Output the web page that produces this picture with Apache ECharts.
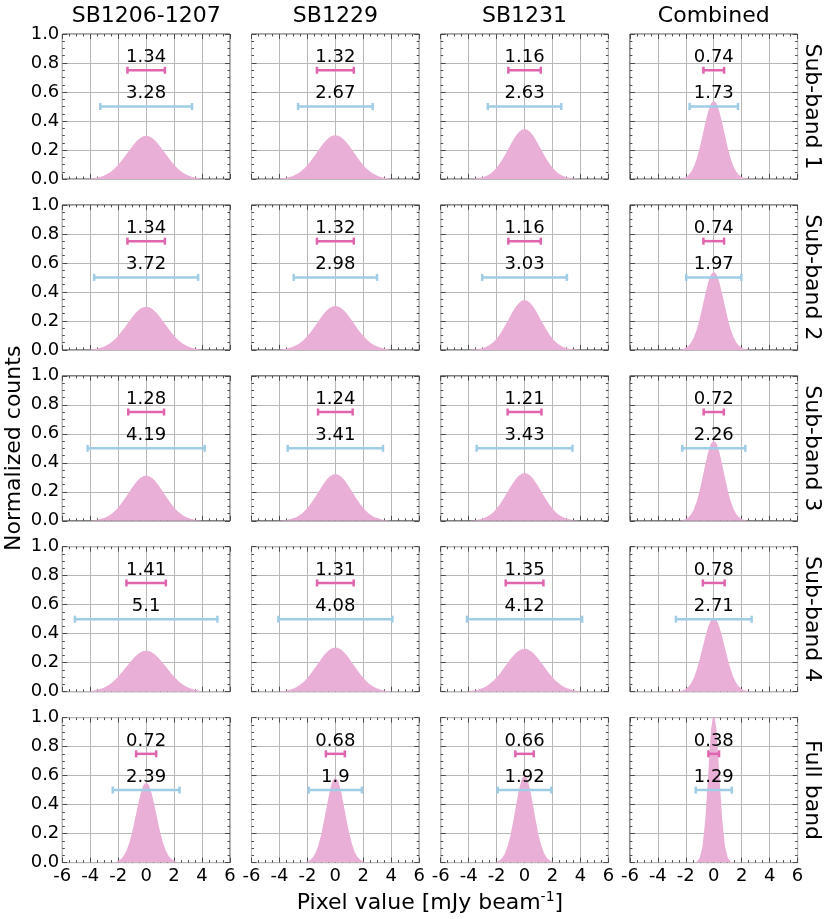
<!DOCTYPE html>
<html>
<head>
<meta charset="utf-8">
<script src="https://cdn.jsdelivr.net/npm/echarts@6/dist/echarts.min.js"></script>
<style>
html,body{margin:0;padding:0;background:#fff;}
#chart{width:830px;height:919px;}
</style>
</head>
<body>
<div id="chart"></div>
<script>
// ---------------- DATA ----------------
const columnTitles = ['SB1206-1207', 'SB1229', 'SB1231', 'Combined'];
const rowTitles = ['Sub-band 1', 'Sub-band 2', 'Sub-band 3', 'Sub-band 4', 'Full band'];
const xTicks = [-6, -4, -2, 0, 2, 4, 6];
const yTicks = [0.0, 0.2, 0.4, 0.6, 0.8, 1.0];

// pink (upper) error-bar half widths, per row, per column
const pinkWidths = [
  [1.34, 1.32, 1.16, 0.74],
  [1.34, 1.32, 1.16, 0.74],
  [1.28, 1.24, 1.21, 0.72],
  [1.41, 1.31, 1.35, 0.78],
  [0.72, 0.68, 0.66, 0.38]
];
// blue (lower) error-bar half widths, per row, per column
const blueWidths = [
  [3.28, 2.67, 2.63, 1.73],
  [3.72, 2.98, 3.03, 1.97],
  [4.19, 3.41, 3.43, 2.26],
  [5.1, 4.08, 4.12, 2.71],
  [2.39, 1.9, 1.92, 1.29]
];

// histogram bin centres (mJy/beam)
const binCenters = [-4.0,-3.8,-3.6,-3.4,-3.2,-3.0,-2.8,-2.6,-2.4,-2.2,-2.0,-1.8,-1.6,-1.4,-1.2,-1.0,-0.8,-0.6,-0.4,-0.2,0,0.2,0.4,0.6,0.8,1.0,1.2,1.4,1.6,1.8,2.0,2.2,2.4,2.6,2.8,3.0,3.2,3.4,3.6,3.8,4.0];

// normalized counts per panel
const histSB1206Sub1 = [0.003,0.005,0.008,0.012,0.017,0.024,0.034,0.045,0.060,0.077,0.098,0.121,0.146,0.172,0.199,0.225,0.249,0.269,0.285,0.294,0.298,0.294,0.285,0.269,0.249,0.225,0.199,0.172,0.146,0.121,0.098,0.077,0.060,0.045,0.034,0.024,0.017,0.012,0.008,0.005,0.003];
const histSB1229Sub1 = [0.003,0.005,0.007,0.011,0.016,0.023,0.032,0.043,0.058,0.075,0.096,0.119,0.145,0.172,0.200,0.227,0.252,0.273,0.289,0.299,0.302,0.299,0.289,0.273,0.252,0.227,0.200,0.172,0.145,0.119,0.096,0.075,0.058,0.043,0.032,0.023,0.016,0.011,0.007,0.005,0.003];
const histSB1231Sub1 = [0.001,0.002,0.003,0.005,0.008,0.012,0.019,0.028,0.040,0.057,0.078,0.103,0.133,0.166,0.201,0.237,0.271,0.301,0.324,0.339,0.344,0.339,0.324,0.301,0.271,0.237,0.201,0.166,0.133,0.103,0.078,0.057,0.040,0.028,0.019,0.012,0.008,0.005,0.003,0.002,0.001];
const histCombSub1 = [0,0,0,0,0,0,0,0.001,0.003,0.006,0.014,0.028,0.052,0.090,0.145,0.216,0.301,0.388,0.466,0.520,0.539,0.520,0.466,0.388,0.301,0.216,0.145,0.090,0.052,0.028,0.014,0.006,0.003,0.001,0,0,0,0,0,0,0];

const histSB1206Sub2 = [0.003,0.005,0.008,0.012,0.017,0.024,0.034,0.045,0.060,0.077,0.098,0.121,0.146,0.172,0.199,0.225,0.249,0.269,0.285,0.294,0.298,0.294,0.285,0.269,0.249,0.225,0.199,0.172,0.146,0.121,0.098,0.077,0.060,0.045,0.034,0.024,0.017,0.012,0.008,0.005,0.003];
const histSB1229Sub2 = [0.003,0.005,0.007,0.011,0.016,0.023,0.032,0.043,0.058,0.075,0.096,0.119,0.145,0.172,0.200,0.227,0.252,0.273,0.289,0.299,0.302,0.299,0.289,0.273,0.252,0.227,0.200,0.172,0.145,0.119,0.096,0.075,0.058,0.043,0.032,0.023,0.016,0.011,0.007,0.005,0.003];
const histSB1231Sub2 = [0.001,0.002,0.003,0.005,0.008,0.012,0.019,0.028,0.040,0.057,0.078,0.103,0.133,0.166,0.201,0.237,0.271,0.301,0.324,0.339,0.344,0.339,0.324,0.301,0.271,0.237,0.201,0.166,0.133,0.103,0.078,0.057,0.040,0.028,0.019,0.012,0.008,0.005,0.003,0.002,0.001];
const histCombSub2 = [0,0,0,0,0,0,0,0.001,0.003,0.006,0.014,0.028,0.052,0.090,0.145,0.216,0.301,0.388,0.466,0.520,0.539,0.520,0.466,0.388,0.301,0.216,0.145,0.090,0.052,0.028,0.014,0.006,0.003,0.001,0,0,0,0,0,0,0];

const histSB1206Sub3 = [0.002,0.004,0.006,0.009,0.014,0.020,0.028,0.040,0.054,0.071,0.092,0.116,0.143,0.171,0.201,0.230,0.256,0.279,0.297,0.308,0.312,0.308,0.297,0.279,0.256,0.230,0.201,0.171,0.143,0.116,0.092,0.071,0.054,0.040,0.028,0.020,0.014,0.009,0.006,0.004,0.002];
const histSB1229Sub3 = [0.002,0.003,0.005,0.008,0.012,0.017,0.025,0.036,0.049,0.067,0.088,0.112,0.140,0.170,0.201,0.232,0.261,0.286,0.305,0.318,0.322,0.318,0.305,0.286,0.261,0.232,0.201,0.170,0.140,0.112,0.088,0.067,0.049,0.036,0.025,0.017,0.012,0.008,0.005,0.003,0.002];
const histSB1231Sub3 = [0.001,0.002,0.004,0.006,0.010,0.015,0.023,0.033,0.046,0.063,0.084,0.109,0.138,0.169,0.202,0.234,0.265,0.292,0.312,0.325,0.330,0.325,0.312,0.292,0.265,0.234,0.202,0.169,0.138,0.109,0.084,0.063,0.046,0.033,0.023,0.015,0.010,0.006,0.004,0.002,0.001];
const histCombSub3 = [0,0,0,0,0,0,0,0.001,0.002,0.005,0.012,0.024,0.047,0.084,0.138,0.211,0.299,0.392,0.475,0.533,0.554,0.533,0.475,0.392,0.299,0.211,0.138,0.084,0.047,0.024,0.012,0.005,0.002,0.001,0,0,0,0,0,0,0];

const histSB1206Sub4 = [0.005,0.007,0.011,0.015,0.022,0.029,0.039,0.052,0.066,0.084,0.103,0.125,0.149,0.173,0.197,0.220,0.241,0.258,0.272,0.280,0.283,0.280,0.272,0.258,0.241,0.220,0.197,0.173,0.149,0.125,0.103,0.084,0.066,0.052,0.039,0.029,0.022,0.015,0.011,0.007,0.005];
const histSB1229Sub4 = [0.003,0.005,0.007,0.010,0.015,0.022,0.031,0.042,0.057,0.074,0.095,0.118,0.144,0.172,0.200,0.228,0.253,0.274,0.291,0.301,0.305,0.301,0.291,0.274,0.253,0.228,0.200,0.172,0.144,0.118,0.095,0.074,0.057,0.042,0.031,0.022,0.015,0.010,0.007,0.005,0.003];
const histSB1231Sub4 = [0.004,0.006,0.008,0.012,0.018,0.025,0.034,0.046,0.061,0.078,0.099,0.121,0.146,0.173,0.199,0.225,0.248,0.268,0.283,0.292,0.296,0.292,0.283,0.268,0.248,0.225,0.199,0.173,0.146,0.121,0.099,0.078,0.061,0.046,0.034,0.025,0.018,0.012,0.008,0.006,0.004];
const histCombSub4 = [0,0,0,0,0,0,0.001,0.002,0.005,0.010,0.019,0.036,0.062,0.102,0.157,0.225,0.302,0.380,0.448,0.495,0.511,0.495,0.448,0.380,0.302,0.225,0.157,0.102,0.062,0.036,0.019,0.010,0.005,0.002,0.001,0,0,0,0,0,0];

const histSB1206Full = [0,0,0,0,0,0,0,0.001,0.002,0.005,0.012,0.024,0.047,0.084,0.138,0.211,0.299,0.392,0.475,0.533,0.554,0.533,0.475,0.392,0.299,0.211,0.138,0.084,0.047,0.024,0.012,0.005,0.002,0.001,0,0,0,0,0,0,0];
const histSB1229Full = [0,0,0,0,0,0,0,0,0.001,0.003,0.008,0.018,0.037,0.070,0.124,0.199,0.294,0.398,0.493,0.562,0.587,0.562,0.493,0.398,0.294,0.199,0.124,0.070,0.037,0.018,0.008,0.003,0.001,0,0,0,0,0,0,0,0];
const histSB1231Full = [0,0,0,0,0,0,0,0,0.001,0.002,0.006,0.015,0.032,0.064,0.116,0.192,0.290,0.400,0.503,0.577,0.604,0.577,0.503,0.400,0.290,0.192,0.116,0.064,0.032,0.015,0.006,0.002,0.001,0,0,0,0,0,0,0,0];
const histCombFull = [0,0,0,0,0,0,0,0,0,0,0,0,0,0.001,0.007,0.033,0.114,0.302,0.603,0.914,1.050,0.914,0.603,0.302,0.114,0.033,0.007,0.001,0,0,0,0,0,0,0,0,0,0,0,0,0];

const panelHists = [
  [histSB1206Sub1, histSB1229Sub1, histSB1231Sub1, histCombSub1],
  [histSB1206Sub2, histSB1229Sub2, histSB1231Sub2, histCombSub2],
  [histSB1206Sub3, histSB1229Sub3, histSB1231Sub3, histCombSub3],
  [histSB1206Sub4, histSB1229Sub4, histSB1231Sub4, histCombSub4],
  [histSB1206Full, histSB1229Full, histSB1231Full, histCombFull]
];

// ---------------- STYLE / LAYOUT ----------------
const FONT = 'DejaVu Sans';
const FILL = '#e9afd7';
const PINK = '#e064ae';
const BLUE = '#9fcde6';
const GRIDC = '#b8b8b8';
const FRAME = '#4a4a4a';
const PINK_Y = 0.75, BLUE_Y = 0.5;

const colLeft0 = 62.3, colStep = 189.2, panelW = 167.7;
const rowTop0 = 34, rowStep = 170.9, panelH = 145;

const chart = echarts.init(document.getElementById('chart'), null, {renderer: 'canvas'});

const grids = [], xAxes = [], yAxes = [], series = [], graphics = [];
const nRows = rowTitles.length, nCols = columnTitles.length;

const tickCommon = {show: true, inside: true, length: 5, lineStyle: {color: FRAME, width: 1}};
const minorCommon = {show: true, splitNumber: 4, length: 2.5, lineStyle: {color: FRAME, width: 1}};

for (let r = 0; r < nRows; r++) {
  for (let c = 0; c < nCols; c++) {
    const gi = grids.length;
    grids.push({
      left: colLeft0 + c * colStep, top: rowTop0 + r * rowStep,
      width: panelW, height: panelH,
      show: true, borderColor: FRAME, borderWidth: 1, backgroundColor: 'transparent',
      containLabel: false
    });
    const xBase = {
      type: 'value', gridIndex: gi, min: xTicks[0], max: xTicks[xTicks.length - 1],
      interval: xTicks[1] - xTicks[0],
      axisLine: {show: false, onZero: false}, axisTick: tickCommon, minorTick: minorCommon
    };
    xAxes.push(Object.assign({}, xBase, {
      position: 'bottom',
      axisLabel: {show: r === nRows - 1, fontFamily: FONT, fontSize: 18, color: '#000', margin: 5,
        formatter: v => String(v)},
      splitLine: {show: true, lineStyle: {color: GRIDC, width: 1}}
    }));
    xAxes.push(Object.assign({}, xBase, {
      position: 'top', axisLabel: {show: false}, splitLine: {show: false}
    }));
    const yBase = {
      type: 'value', gridIndex: gi, min: yTicks[0], max: yTicks[yTicks.length - 1],
      interval: yTicks[1] - yTicks[0],
      axisLine: {show: false, onZero: false}, axisTick: tickCommon, minorTick: minorCommon
    };
    yAxes.push(Object.assign({}, yBase, {
      position: 'left',
      axisLabel: {show: c === 0, fontFamily: FONT, fontSize: 18, color: '#000', margin: 3,
        formatter: v => v.toFixed(1)},
      splitLine: {show: true, lineStyle: {color: GRIDC, width: 1}}
    }));
    yAxes.push(Object.assign({}, yBase, {
      position: 'right', axisLabel: {show: false}, splitLine: {show: false}
    }));

    const hist = panelHists[r][c];
    series.push({
      type: 'line', xAxisIndex: 2 * gi, yAxisIndex: 2 * gi,
      data: binCenters.map((x, i) => [x, hist[i]]),
      symbol: 'none', silent: true, animation: false,
      lineStyle: {width: 0, opacity: 0},
      areaStyle: {color: FILL, opacity: 1},
      clip: true, z: 1
    });
    series.push({
      type: 'custom', xAxisIndex: 2 * gi, yAxisIndex: 2 * gi,
      data: [[pinkWidths[r][c], PINK_Y], [blueWidths[r][c], BLUE_Y]],
      encode: {x: 0, y: 1}, silent: true, animation: false, z: 5, clip: false,
      renderItem: (params, api) => {
        const v = api.value(0), y = api.value(1);
        const color = params.dataIndex === 0 ? PINK : BLUE;
        const a = api.coord([-v, y]), b = api.coord([v, y]), m = api.coord([0, y]);
        const ls = {stroke: color, lineWidth: 2.5};
        return {type: 'group', children: [
          {type: 'line', shape: {x1: a[0], y1: a[1], x2: b[0], y2: b[1]}, style: ls},
          {type: 'line', shape: {x1: a[0], y1: a[1] - 3.5, x2: a[0], y2: a[1] + 3.5}, style: ls},
          {type: 'line', shape: {x1: b[0], y1: b[1] - 3.5, x2: b[0], y2: b[1] + 3.5}, style: ls},
          {type: 'text', x: m[0], y: m[1] - 13, style: {
            text: String(v), fill: '#000', fontSize: 18, fontFamily: FONT,
            align: 'center', verticalAlign: 'middle'}}
        ]};
      }
    });
  }
}

// column titles
columnTitles.forEach((t, c) => {
  graphics.push({type: 'text', x: colLeft0 + c * colStep + panelW / 2, y: 16,
    style: {text: t, fontSize: 22, fontFamily: FONT, fill: '#000', align: 'center', verticalAlign: 'middle'}});
});
// row titles (rotated, reading top to bottom)
rowTitles.forEach((t, r) => {
  graphics.push({type: 'text', x: 812, y: rowTop0 + r * rowStep + panelH / 2, rotation: -Math.PI / 2,
    style: {text: t, fontSize: 22, fontFamily: FONT, fill: '#000', align: 'center', verticalAlign: 'middle'}});
});
// y axis title
graphics.push({type: 'text', x: 14, y: (rowTop0 + rowTop0 + (nRows - 1) * rowStep + panelH) / 2, rotation: Math.PI / 2,
  style: {text: 'Normalized counts', fontSize: 22, fontFamily: FONT, fill: '#000', align: 'center', verticalAlign: 'middle'}});
// x axis title
graphics.push({type: 'text', x: (colLeft0 + colLeft0 + (nCols - 1) * colStep + panelW) / 2, y: 903,
  style: {
    text: '{a|Pixel value [mJy beam}{s|-1}{a|]}',
    align: 'center', verticalAlign: 'middle',
    rich: {
      a: {fontSize: 22, fontFamily: FONT, fill: '#000', color: '#000', lineHeight: 26},
      s: {fontSize: 14, fontFamily: FONT, fill: '#000', color: '#000', lineHeight: 16, verticalAlign: 'top'}
    }
  }});

chart.setOption({
  animation: false,
  backgroundColor: '#ffffff',
  grid: grids, xAxis: xAxes, yAxis: yAxes, series: series,
  graphic: graphics
});
</script>
</body>
</html>
